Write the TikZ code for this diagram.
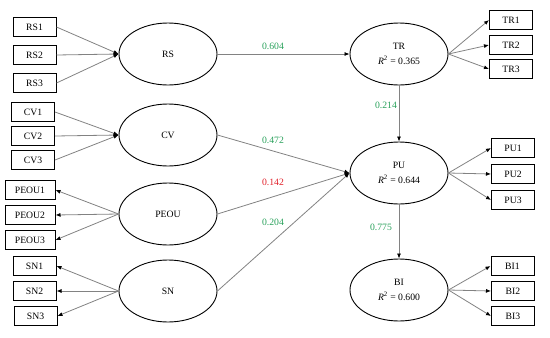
\documentclass[tikz,border=0pt]{standalone}
\usepackage{fontspec}
\setmainfont{Liberation Serif}
\usetikzlibrary{shapes.geometric,arrows.meta}
\definecolor{pathgreen}{RGB}{40,160,90}
\definecolor{pathred}{RGB}{225,30,40}
\definecolor{linegray}{RGB}{130,130,130}
\tikzset{
  lat/.style={ellipse,draw=black,line width=0.9pt,minimum width=98pt,minimum height=62pt,inner sep=0pt,align=center,font=\fontsize{9.7}{11}\selectfont},
  ind/.style={rectangle,draw=black,line width=1pt,minimum height=19pt,minimum width=43pt,inner sep=0pt,font=\fontsize{9.7}{11}\selectfont},
  conn/.style={draw=linegray,line width=0.8pt,-{Latex[length=5pt,width=4pt,color=black]}},
  coef/.style={font=\fontsize{9.7}{11}\selectfont,text=pathgreen},
}
\begin{document}
\begin{tikzpicture}[x=1pt,y=-1pt]
\useasboundingbox (0,0) rectangle (550,338);
% latent variables
\node[lat] (RS) at (168,54) {RS};
\node[lat] (CV) at (168,135) {CV};
\node[lat] (PEOU) at (168,214) {PEOU};
\node[lat] (SN) at (168,291) {SN};
\node[lat] (TR) at (399,54) {TR\\[4pt]\textit{R}\textsuperscript{2} = 0.365};
\node[lat] (PU) at (399,173) {PU\\[4pt]\textit{R}\textsuperscript{2} = 0.644};
\node[lat] (BI) at (399,290) {BI\\[4pt]\textit{R}\textsuperscript{2} = 0.600};
% left indicators
\node[ind] (RS1) at (34.5,27) {RS1};
\node[ind] (RS2) at (34.5,55) {RS2};
\node[ind] (RS3) at (34.5,83) {RS3};
\node[ind] (CV1) at (33,112) {CV1};
\node[ind] (CV2) at (33,136) {CV2};
\node[ind] (CV3) at (33,160) {CV3};
\node[ind,minimum width=50pt] (PEOU1) at (30,190) {PEOU1};
\node[ind,minimum width=50pt] (PEOU2) at (30,215) {PEOU2};
\node[ind,minimum width=50pt] (PEOU3) at (30,240) {PEOU3};
\node[ind] (SN1) at (34.5,266) {SN1};
\node[ind] (SN2) at (34.5,291) {SN2};
\node[ind] (SN3) at (35.5,316) {SN3};
% right indicators
\node[ind] (TR1) at (511,20) {TR1};
\node[ind] (TR2) at (511,45) {TR2};
\node[ind] (TR3) at (511,69) {TR3};
\node[ind] (PU1) at (513,148) {PU1};
\node[ind] (PU2) at (513,174) {PU2};
\node[ind] (PU3) at (513,200) {PU3};
\node[ind] (BI1) at (512.5,266) {BI1};
\node[ind] (BI2) at (513,291) {BI2};
\node[ind] (BI3) at (513,316) {BI3};
% reflective in (pointing to latent)
\foreach \i in {RS1,RS2,RS3} \draw[conn] (\i.east) -- (RS.west);
\foreach \i in {CV1,CV2,CV3} \draw[conn] (\i.east) -- (CV.west);
% pointing to indicators
\foreach \i in {PEOU1,PEOU2,PEOU3} \draw[conn] (PEOU.west) -- (\i.east);
\foreach \i in {SN1,SN2,SN3} \draw[conn] (SN.west) -- (\i.east);
\foreach \i in {TR1,TR2,TR3} \draw[conn] (TR.east) -- (\i.west);
\foreach \i in {PU1,PU2,PU3} \draw[conn] (PU.east) -- (\i.west);
\foreach \i in {BI1,BI2,BI3} \draw[conn] (BI.east) -- (\i.west);
% structural paths
\draw[conn] (RS.east) -- (TR.west);
\draw[conn] (TR.south) -- (PU.north);
\draw[conn] (CV.east) -- (PU.west);
\draw[conn] (PEOU.east) -- (PU.west);
\draw[conn] (SN.east) -- (PU.west);
\draw[conn] (PU.south) -- (BI.north);
% coefficients
\node[coef] (c1) at (273,46) {0.604};
\node[coef] (c2) at (386,105) {0.214};
\node[coef] (c3) at (273,140) {0.472};
\node[coef,text=pathred] (c4) at (273,182) {0.142};
\node[coef] (c5) at (273,222) {0.204};
\node[coef] (c6) at (381,227) {0.775};
\end{tikzpicture}
\end{document}
